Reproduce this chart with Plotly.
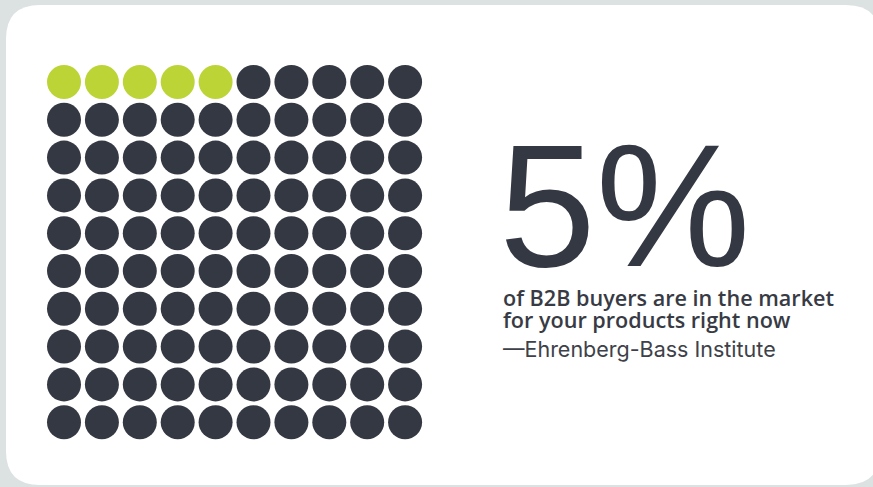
import plotly.graph_objects as go

# ---- data ----
total_dots = 100
highlighted = 5
grid_cols = 10
grid_rows = 10
headline = "5%"
caption_lines = ["of B2B buyers are in the market", "for your products right now"]
source = "—Ehrenberg-Bass Institute"

W, H = 873, 487
GREEN = "#bdd437"
DARK = "#343843"
BG = "#dce1e2"

xs, ys, cols = [], [], []
for i in range(total_dots):
    r, c = divmod(i, grid_cols)
    xs.append(64 + c * 37.9)
    ys.append(82 + r * 37.8)
    cols.append(GREEN if i < highlighted else DARK)

fig = go.Figure()
fig.add_trace(go.Scatter(
    x=xs, y=ys, mode="markers",
    marker=dict(size=34, color=cols, line=dict(width=0)),
    hoverinfo="skip", showlegend=False,
))

# card shape (rounded rectangle)
x0, y0, x1, y1, rr = 6, 5, 880, 485, 34
path = (f"M {x0+rr},{y0} L {x1-rr},{y0} Q {x1},{y0} {x1},{y0+rr} "
        f"L {x1},{y1-rr} Q {x1},{y1} {x1-rr},{y1} L {x0+rr},{y1} "
        f"Q {x0},{y1} {x0},{y1-rr} L {x0},{y0+rr} Q {x0},{y0} {x0+rr},{y0} Z")
fig.add_shape(type="path", path=path, xref="x", yref="y",
              fillcolor="white", line=dict(width=0), layer="below")

fig.add_annotation(x=497, y=305, xref="x", yref="y", text=headline,
                   showarrow=False, xanchor="left", yanchor="bottom",
                   font=dict(family="Liberation Sans", size=174, color=DARK))
cap_tops = [281, 302.5]
for line, yt in zip(caption_lines, cap_tops):
    fig.add_annotation(x=501, y=yt, xref="x", yref="y", text=line,
                       showarrow=False, xanchor="left", yanchor="top", align="left",
                       font=dict(family="Open Sans", size=21.6, color="#383b44", weight=600))
fig.add_annotation(x=501, y=334, xref="x", yref="y", text=source,
                   showarrow=False, xanchor="left", yanchor="top", align="left",
                   font=dict(family="Inter", size=21.5, color="#3e4149"))

fig.update_layout(
    width=W, height=H, margin=dict(l=0, r=0, t=0, b=0),
    paper_bgcolor=BG, plot_bgcolor="rgba(0,0,0,0)",
    xaxis=dict(range=[0, W], visible=False, fixedrange=True),
    yaxis=dict(range=[H, 0], visible=False, fixedrange=True),
)
fig.write_html("out.html", config={"displayModeBar": False},
               post_script="document.body.style.margin='0';document.body.style.background='%s';document.body.style.overflow='hidden';" % BG)
